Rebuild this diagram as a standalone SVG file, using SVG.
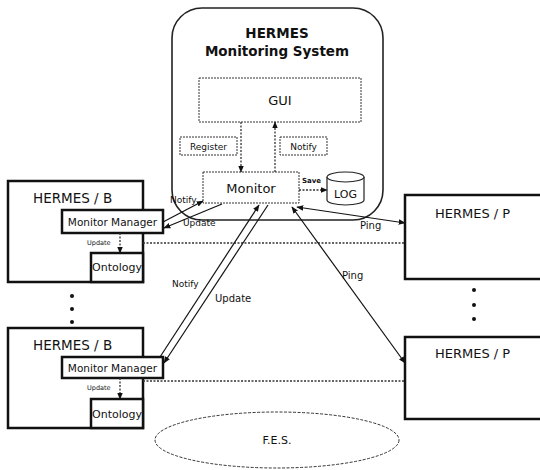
<svg xmlns="http://www.w3.org/2000/svg" width="540" height="470" viewBox="0 0 540 470">
<style>
text{font-family:"DejaVu Sans","Liberation Sans",sans-serif;fill:#111}
.heavy{fill:#fff;stroke:#111;stroke-width:2.5}
.dot{fill:#fff;stroke:#333;stroke-width:1;stroke-dasharray:2 1}
.ln{stroke:#111;stroke-width:1.2;fill:none}
.dl{stroke:#333;stroke-width:1.3;fill:none;stroke-dasharray:2 1.5}
</style>
<defs>
<marker id="ah" viewBox="0 0 10 10" refX="9" refY="5" markerWidth="7" markerHeight="7" orient="auto-start-reverse" markerUnits="userSpaceOnUse"><path d="M0,1 L10,5 L0,9 z" fill="#111"/></marker>
</defs>
<rect width="540" height="470" fill="#fff"/>

<g id="monitoring-system">
<rect x="172" y="8" width="211" height="212" rx="30" fill="#fff" stroke="#222" stroke-width="1.6"/>
<text x="277" y="38" font-size="13.5" font-weight="bold" text-anchor="middle">HERMES</text>
<text x="277" y="56" font-size="13.5" font-weight="bold" text-anchor="middle">Monitoring System</text>
</g>

<g id="gui">
<rect x="199" y="78" width="162" height="44" class="dot"/>
<text x="280" y="105" font-size="13" text-anchor="middle">GUI</text>
</g>
<g id="register">
<rect x="180" y="137" width="57" height="18" class="dot"/>
<text x="208.5" y="150" font-size="9" text-anchor="middle">Register</text>
</g>
<g id="notify-box">
<rect x="280" y="137" width="47" height="18" class="dot"/>
<text x="303.5" y="150" font-size="9" text-anchor="middle">Notify</text>
</g>
<g id="monitor">
<rect x="203" y="172" width="96" height="31" class="dot"/>
<text x="251" y="193" font-size="13" text-anchor="middle">Monitor</text>
</g>
<g id="log">
<path d="M327,177 V200 A18.5,5 0 0 0 364,200 V177" fill="#fff" stroke="#222" stroke-width="1.2"/>
<ellipse cx="345.5" cy="177" rx="18.5" ry="5" fill="#fff" stroke="#222" stroke-width="1.2"/>
<text x="345.5" y="198" font-size="11" text-anchor="middle">LOG</text>
</g>

<g id="hermes-b1">
<rect x="8" y="181" width="135" height="101" class="heavy"/>
<text x="33" y="203" font-size="13.5">HERMES / B</text>
<g id="mm1">
<rect x="62" y="210" width="101" height="23" class="heavy"/>
<text x="112.5" y="226" font-size="10.5" text-anchor="middle">Monitor Manager</text>
</g>
<g id="onto1">
<rect x="91" y="253" width="52" height="29" class="heavy"/>
<text x="117" y="271" font-size="11" text-anchor="middle">Ontology</text>
</g>
</g>

<g id="hermes-b2">
<rect x="8" y="328" width="135" height="100" class="heavy"/>
<text x="33" y="350" font-size="13.5">HERMES / B</text>
<g id="mm2">
<rect x="62" y="357" width="101" height="21" class="heavy"/>
<text x="112.5" y="372" font-size="10.5" text-anchor="middle">Monitor Manager</text>
</g>
<g id="onto2">
<rect x="91" y="399" width="52" height="29" class="heavy"/>
<text x="117" y="418" font-size="11" text-anchor="middle">Ontology</text>
</g>
</g>

<g id="hermes-p1">
<rect x="405" y="195" width="140" height="84" class="heavy"/>
<text x="435" y="218" font-size="13">HERMES / P</text>
</g>
<g id="hermes-p2">
<rect x="405" y="337" width="140" height="82" class="heavy"/>
<text x="435" y="358" font-size="13">HERMES / P</text>
</g>

<g id="fes">
<ellipse cx="277" cy="440" rx="122" ry="28" fill="none" stroke="#333" stroke-width="1" stroke-dasharray="3 1.5"/>
<text x="277" y="444" font-size="11" text-anchor="middle">F.E.S.</text>
</g>

<g id="ellipsis" fill="#111">
<circle cx="72" cy="296" r="2"/><circle cx="72" cy="309" r="2"/><circle cx="72" cy="322" r="2"/>
<circle cx="474" cy="290" r="2"/><circle cx="474" cy="305" r="2"/><circle cx="474" cy="319" r="2"/>
</g>

<g id="connectors">
<line x1="241" y1="122" x2="241" y2="172" class="dl" marker-end="url(#ah)"/>
<line x1="275" y1="172" x2="275" y2="122" class="dl" marker-end="url(#ah)"/>
<line x1="299" y1="190" x2="327" y2="190" class="dl" marker-end="url(#ah)"/>
<text x="302" y="183" font-size="7" font-weight="bold">Save</text>
<line x1="120" y1="233" x2="120" y2="253" class="dl" marker-end="url(#ah)"/>
<text x="87" y="245" font-size="6.5">Update</text>
<line x1="120" y1="378" x2="120" y2="399" class="dl" marker-end="url(#ah)"/>
<text x="87" y="390" font-size="6.5">Update</text>
<line x1="143" y1="243" x2="405" y2="243" class="dl"/>
<line x1="143" y1="381" x2="405" y2="381" class="dl"/>
<line x1="163" y1="222" x2="203" y2="201" class="ln" marker-end="url(#ah)"/>
<text x="170" y="203" font-size="9">Notify</text>
<line x1="222" y1="204" x2="164" y2="228" class="ln" marker-end="url(#ah)"/>
<text x="183" y="226" font-size="9">Update</text>
<line x1="160" y1="357" x2="259" y2="205" class="ln" marker-end="url(#ah)"/>
<text x="172" y="287" font-size="9">Notify</text>
<line x1="268" y1="205" x2="164" y2="363" class="ln" marker-end="url(#ah)"/>
<text x="215" y="302" font-size="10">Update</text>
<line x1="292" y1="207" x2="405" y2="363" class="ln" marker-start="url(#ah)" marker-end="url(#ah)"/>
<text x="342" y="279" font-size="10">Ping</text>
<line x1="297" y1="207" x2="405" y2="223" class="ln" marker-start="url(#ah)" marker-end="url(#ah)"/>
<text x="360" y="229" font-size="10">Ping</text>
</g>
</svg>
